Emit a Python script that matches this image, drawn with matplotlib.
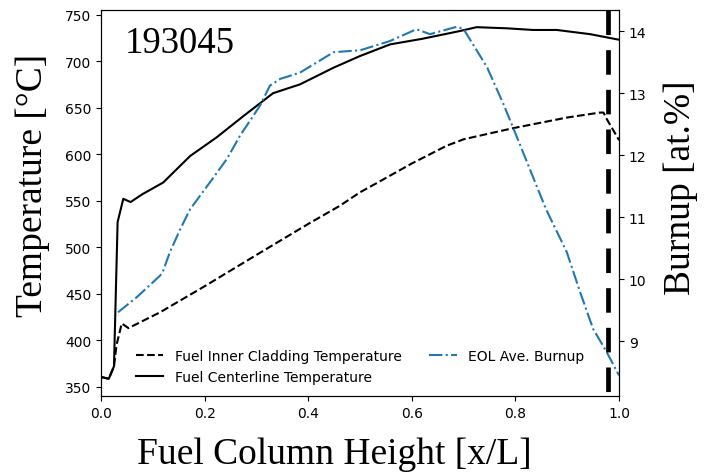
import matplotlib.pyplot as plt

# fuel column position (x/L) and values
x_center = [0.0, 0.015, 0.025, 0.032, 0.043, 0.057, 0.08, 0.12, 0.172, 0.223,
            0.275, 0.332, 0.384, 0.449, 0.5, 0.558, 0.62, 0.693, 0.725, 0.783,
            0.834, 0.88, 0.944, 1.0]
t_center = [360.5, 358.5, 372, 527, 552, 548.5, 557, 569.5, 598, 618,
            641, 665.5, 675, 693, 705.5, 718, 724, 732.4, 736.5, 735.3,
            733.5, 733.5, 729, 723]

x_clad = [0.0, 0.015, 0.025, 0.03, 0.04, 0.053, 0.114, 0.2, 0.307, 0.4,
          0.461, 0.5, 0.539, 0.6, 0.667, 0.7, 0.796, 0.9, 0.963, 0.97,
          0.976, 1.0]
t_clad = [360.5, 358.5, 372, 395, 418, 413, 430, 458, 494, 525,
          544.5, 559, 571, 590, 609, 616, 628, 639.4, 644.7, 644.7,
          638, 615]

x_burn = [0.033, 0.07, 0.114, 0.12, 0.133, 0.153, 0.172, 0.21, 0.243, 0.268,
          0.307, 0.326, 0.346, 0.384, 0.449, 0.5, 0.558, 0.609, 0.635, 0.687,
          0.7, 0.745, 0.777, 0.8, 0.859, 0.899, 0.925, 0.95, 0.976, 1.0]
b_burn = [9.47, 9.72, 10.06, 10.14, 10.44, 10.81, 11.13, 11.56, 11.94, 12.31,
          12.8, 13.12, 13.23, 13.33, 13.66, 13.69, 13.84, 14.03, 13.95, 14.07,
          14.03, 13.42, 12.82, 12.35, 11.13, 10.44, 9.79, 9.2, 8.83, 8.45]

pin_id = "193045"
cutoff_x = 0.978  # dashed vertical marker

serif = ["Liberation Serif", "DejaVu Serif"]

fig = plt.figure(figsize=(7.05, 4.77), dpi=100)
ax = fig.add_axes([0.1433, 0.1677, 0.7348, 0.8093])
ax2 = ax.twinx()

l1, = ax.plot(x_clad, t_clad, color="black", ls="--", lw=1.5,
              label="Fuel Inner Cladding Temperature")
l2, = ax.plot(x_center, t_center, color="black", ls="-", lw=1.5,
              label="Fuel Centerline Temperature")
l3, = ax2.plot(x_burn, b_burn, color="#1f77b4", ls="-.", lw=1.5,
               label="EOL Ave. Burnup")

# thick dashed line near the top of the column
ax2.plot([cutoff_x, cutoff_x], [1.0, -0.026], transform=ax2.get_xaxis_transform(),
         color="black", lw=3.4, ls=(0, (5.2, 3.2)), clip_on=False)

ax.set_xlim(0, 1)
ax.set_ylim(340, 755)
ax2.set_ylim(8.12, 14.34)
ax.set_yticks(range(350, 751, 50))
ax2.set_yticks(range(9, 15))

# axis titles placed on the figure
fig.text(0.474, 0.027, "Fuel Column Height [x/L]", family=serif, fontsize=27,
         ha="center", va="baseline")
fig.text(0.047, 0.611, "Temperature [\u00b0C]", family=serif, fontsize=27,
         rotation=90, ha="center", va="center")
fig.text(0.966, 0.607, "Burnup [at.%]", family=serif, fontsize=27,
         rotation=90, ha="center", va="center")

ax.text(0.046, 0.891, pin_id, transform=ax.transAxes, family=serif,
        fontsize=26.5, va="baseline")

ax2.legend([l1, l2, l3], [l.get_label() for l in (l1, l2, l3)],
           loc="lower center", ncol=2, frameon=False, fontsize=10)

fig.savefig("out.png", dpi=100)
